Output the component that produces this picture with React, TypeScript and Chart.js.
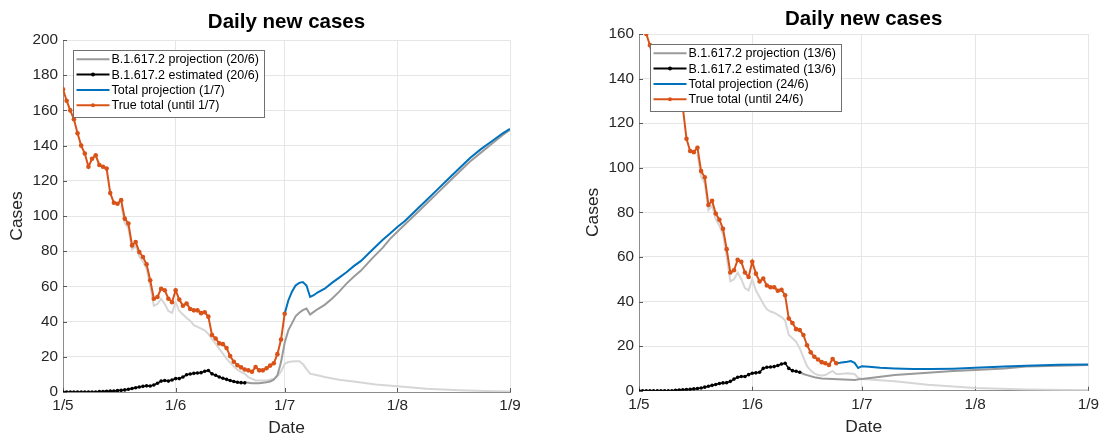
import React, { useEffect, useRef } from 'react';
import { Chart, registerables } from 'chart.js';

Chart.register(...registerables);

const FONT = '"Liberation Sans", Arial, Helvetica, sans-serif';

// x axis: days counted from 1/5
const DAY_TICKS = [0, 31, 61, 92, 123];
const DAY_LABELS = ['1/5', '1/6', '1/7', '1/8', '1/9'];

const TITLE = 'Daily new cases';

// True total daily cases, one value per day from 1/5 (day 0) to 1/7 (day 61)
const TRUE_TOTAL = [172, 165.5, 160, 155, 147, 140, 135.5, 128, 132.5, 134.5, 129, 128, 127, 113, 107.5, 107, 109, 98.5, 95.7, 83.3, 85.2, 79.5, 76.7, 72.6, 63.5, 53, 54, 58.7, 57.8, 53, 51, 57.8, 52.5, 49, 50.3, 47.2, 46.4, 46.4, 44.8, 45.3, 42.8, 32.4, 30.4, 27.6, 27.2, 25, 20.4, 17.2, 15.2, 14, 12.8, 12.3, 11.5, 14.2, 12.3, 12.3, 13.5, 15, 16.3, 21.5, 29.8, 44.5];

// B.1.617.2 estimated, daily from day 0
const EST_LEFT = [0, 0, 0, 0, 0, 0, 0, 0, 0, 0, 0.2, 0.3, 0.4, 0.5, 0.6, 0.8, 1, 1.2, 1.6, 2, 2.4, 2.8, 3.2, 3.5, 3.4, 4, 5, 6.2, 6.5, 6.2, 6.8, 7.6, 7.6, 8.5, 9.8, 10.2, 10.6, 10.8, 11, 11.8, 12.2, 10.3, 9.5, 8.5, 7.8, 7.2, 6.5, 6, 5.5, 5.3, 5.2];
const EST_RIGHT = [0, 0, 0, 0, 0, 0, 0, 0, 0, 0, 0.2, 0.3, 0.4, 0.5, 0.6, 0.8, 1, 1.2, 1.6, 2, 2.4, 2.8, 3.2, 3.5, 3.6, 4.2, 5.2, 6, 6.4, 6.4, 7.2, 7.8, 8, 8.3, 10, 10.5, 10.6, 10.8, 11.3, 12, 12.3, 10, 9, 8.7, 8.3];

// B.1.617.2 projection (20/6)
const PROJ_B_LEFT_DAYS = [50, 52, 54, 56, 57, 58, 59, 60, 61, 62, 63, 64, 65, 66, 67, 68, 69, 70, 72, 74, 76, 78, 80, 82, 85, 88, 90, 92, 94, 96, 98, 100, 103, 106, 109, 112, 115, 118, 121, 123];
const PROJ_B_LEFT = [5.5, 5, 5, 5.5, 6, 7, 9.5, 17, 28, 35, 39, 43, 45, 46.5, 47.4, 44, 45.5, 47, 49.5, 53, 57, 61.6, 65.5, 69, 75.8, 82, 87, 91, 95, 99, 103, 107, 113, 119, 125, 131, 136, 141, 146, 149];

// Total projection (1/7)
const PROJ_T_LEFT_DAYS = [61, 62, 63, 64, 65, 66, 67, 68, 69, 70, 72, 74, 76, 78, 80, 82, 85, 88, 90, 92, 94, 96, 98, 100, 103, 106, 109, 112, 115, 118, 121, 123];
const PROJ_T_LEFT = [44.5, 52, 57, 60.5, 62, 62.5, 60.5, 54, 55, 56.5, 58.7, 62, 65, 68, 71.5, 74.5, 80.5, 86.5, 90, 93.7, 97, 101, 105, 109, 115, 121, 127, 133, 138, 142.5, 147, 149.5];

// other (light grey) curve, left panel
const OTHER_LEFT_DAYS = [16, 17, 18, 19, 20, 21, 22, 23, 24, 25, 26, 27, 28, 29, 30, 31, 32, 33, 34, 35, 36, 37, 38, 39, 40, 41, 42, 43, 44, 45, 46, 47, 48, 49, 50, 51, 52, 53, 55, 56, 57, 58, 59, 60, 61, 62, 63, 64, 65, 66, 67, 68, 70, 72, 76, 81, 86, 92, 100, 109, 116, 123];
const OTHER_LEFT = [106, 96, 93, 81, 83, 77, 74, 70, 60, 49, 50, 53, 50, 46, 45, 51, 46, 44, 42, 40.5, 38, 37, 36, 35, 33, 30, 27.5, 24.5, 21.8, 19, 16.7, 14.5, 12.7, 11.5, 10.4, 8.5, 7.5, 6.6, 6.5, 6.6, 7, 7.5, 9, 11.7, 16, 17, 17.3, 17.5, 17.5, 16, 13, 10.4, 9.5, 8.5, 7, 5.7, 4.3, 3.2, 1.8, 1, 0.6, 0.3];

// B.1.617.2 projection (13/6)
const PROJ_B_RIGHT_DAYS = [44, 45, 46, 48, 50, 53, 56, 59, 61, 65, 70, 75, 80, 86, 92, 100, 106, 115, 123];
const PROJ_B_RIGHT = [8.3, 7.5, 7, 6, 5.5, 5.3, 5, 4.8, 5.3, 6, 7, 7.6, 8.2, 8.8, 9.3, 10, 10.8, 11.2, 11.5];

// Total projection (24/6)
const PROJ_T_RIGHT_DAYS = [54, 55, 56, 57, 58, 59, 60, 61, 63, 66, 70, 75, 80, 86, 92, 100, 106, 115, 123];
const PROJ_T_RIGHT = [12.3, 12.5, 12.8, 13, 13.3, 12.5, 10.2, 11, 10.7, 10.3, 10, 9.7, 9.7, 9.9, 10.3, 10.8, 11.2, 11.6, 11.8];

// other (light grey) curve, right panel
const OTHER_RIGHT_DAYS = [16, 17, 18, 19, 20, 21, 22, 23, 24, 25, 26, 27, 28, 29, 30, 31, 32, 33, 34, 35, 36, 37, 38, 39, 40, 41, 42, 43, 44, 45, 46, 47, 48, 49, 50, 51, 52, 53, 54, 55, 57, 59, 60, 61, 65, 70, 79, 92, 106, 123];
const OTHER_RIGHT = [106, 96, 93, 81, 83, 77, 74, 70, 60, 49, 50, 53, 50, 46, 45, 50, 45, 42, 39, 36.5, 35.5, 35, 34, 33, 31.5, 25, 23.5, 22, 19, 15, 11, 9, 7.8, 7, 6.8, 7, 8, 8.8, 7.5, 7.5, 7.8, 7.5, 5.8, 5.2, 4.8, 4.2, 2.7, 1.2, 0.5, 0.2];

const LEGEND_LEFT = ['B.1.617.2 projection (20/6)', 'B.1.617.2 estimated (20/6)', 'Total projection (1/7)', 'True total (until 1/7)'];
const LEGEND_RIGHT = ['B.1.617.2 projection (13/6)', 'B.1.617.2 estimated (13/6)', 'Total projection (24/6)', 'True total (until 24/6)'];

const ORANGE = '#D95319';
const BLUE = '#0072BD';
const DARK_GREY = '#9a9a9a';
const LIGHT_GREY = '#d6d6d6';
const BLACK = '#000000';

const daily = (start: number, vals: number[]) => vals.map((v, i) => ({ x: start + i, y: v }));
const paired = (days: number[], vals: number[]) => days.map((d, i) => ({ x: d, y: vals[i] }));

const insideLegend = {
  id: 'insideLegend',
  afterDatasetsDraw(chart: any, _args: any, opts: any) {
    const { ctx, chartArea } = chart;
    const items = opts.items as { text: string; color: string; width: number; marker: number }[];
    if (!items) return;
    ctx.save();
    ctx.font = `12.5px ${FONT}`;
    const textW = Math.max(...items.map((it) => ctx.measureText(it.text).width));
    const x0 = Math.round(chartArea.left + opts.dx);
    const y0 = Math.round(chartArea.top + opts.dy);
    const rowH = 15.3;
    const w = Math.round(38.5 + textW + 5);
    const h = Math.round(rowH * items.length + 5.8);
    ctx.fillStyle = '#ffffff';
    ctx.fillRect(x0, y0, w, h);
    ctx.strokeStyle = '#707070';
    ctx.lineWidth = 1;
    ctx.strokeRect(x0 + 0.5, y0 + 0.5, w, h);
    items.forEach((it, i) => {
      const cy = y0 + 9.3 + i * rowH;
      ctx.strokeStyle = it.color;
      ctx.lineWidth = it.width;
      ctx.beginPath();
      ctx.moveTo(x0 + 3.5, cy);
      ctx.lineTo(x0 + 36.5, cy);
      ctx.stroke();
      if (it.marker) {
        ctx.fillStyle = it.color;
        ctx.beginPath();
        ctx.arc(x0 + 20, cy, it.marker, 0, Math.PI * 2);
        ctx.fill();
      }
      ctx.fillStyle = '#000000';
      ctx.textBaseline = 'middle';
      ctx.textAlign = 'left';
      ctx.fillText(it.text, x0 + 38.5, cy + 0.5);
    });
    ctx.restore();
  },
};

const innerTicks = {
  id: 'innerTicks',
  beforeDatasetsDraw(chart: any) {
    const { ctx, chartArea, scales } = chart;
    ctx.save();
    ctx.strokeStyle = '#595959';
    ctx.lineWidth = 1;
    scales.y.ticks.forEach((t: any) => {
      const y = Math.round(scales.y.getPixelForValue(t.value)) + 0.5;
      ctx.beginPath();
      ctx.moveTo(chartArea.left, y);
      ctx.lineTo(chartArea.left + 4, y);
      ctx.stroke();
    });
    scales.x.ticks.forEach((t: any) => {
      const x = Math.round(scales.x.getPixelForValue(t.value)) + 0.5;
      ctx.beginPath();
      ctx.moveTo(x, chartArea.bottom);
      ctx.lineTo(x, chartArea.bottom - 4);
      ctx.stroke();
    });
    ctx.restore();
  },
};

type PanelSpec = {
  yMax: number;
  trueTotal: { x: number; y: number }[];
  est: { x: number; y: number }[];
  projB: { x: number; y: number }[];
  projT: { x: number; y: number }[];
  other: { x: number; y: number }[];
  legend: string[];
  yAxisWidth: number;
  xAxisHeight: number;
  padRight: number;
  titlePad: { top: number; bottom: number };
  casesPad: number;
  datePad: number;
  legendDx: number;
  legendDy: number;
};

function buildConfig(p: PanelSpec): any {
  const tickFont = { size: 15.3, family: FONT };
  return {
    type: 'line',
    data: {
      datasets: [
        { data: p.trueTotal, borderColor: ORANGE, backgroundColor: ORANGE, borderWidth: 2, pointRadius: 2.3, pointBorderWidth: 0, pointBackgroundColor: ORANGE },
        { data: p.projT, borderColor: BLUE, borderWidth: 2, pointRadius: 0 },
        { data: p.est, borderColor: BLACK, backgroundColor: BLACK, borderWidth: 1.5, pointRadius: 1.8, pointBorderWidth: 0, pointBackgroundColor: BLACK },
        { data: p.projB, borderColor: DARK_GREY, borderWidth: 2, pointRadius: 0 },
        { data: p.other, borderColor: LIGHT_GREY, borderWidth: 2, pointRadius: 0 },
      ],
    },
    options: {
      animation: false,
      responsive: false,
      events: [],
      layout: { padding: { left: 0, right: p.padRight, top: 0, bottom: 0 } },
      elements: { line: { tension: 0, fill: false } },
      plugins: {
        legend: { display: false },
        tooltip: { enabled: false },
        title: {
          display: true,
          text: TITLE,
          fullSize: false,
          color: '#000000',
          font: { size: 20.5, weight: 'bold', family: FONT },
          padding: p.titlePad,
        },
        insideLegend: {
          dx: p.legendDx,
          dy: p.legendDy,
          items: [
            { text: p.legend[0], color: DARK_GREY, width: 2, marker: 0 },
            { text: p.legend[1], color: BLACK, width: 2, marker: 2 },
            { text: p.legend[2], color: BLUE, width: 2, marker: 0 },
            { text: p.legend[3], color: ORANGE, width: 2, marker: 2 },
          ],
        },
      },
      scales: {
        x: {
          type: 'linear',
          min: 0,
          max: 123,
          afterBuildTicks: (s: any) => {
            s.ticks = DAY_TICKS.map((v) => ({ value: v }));
          },
          afterFit: (s: any) => {
            s.height = p.xAxisHeight;
          },
          ticks: {
            autoSkip: false,
            maxRotation: 0,
            padding: 5,
            color: '#262626',
            font: tickFont,
            callback: (v: number) => {
              const i = DAY_TICKS.indexOf(v);
              return i >= 0 ? DAY_LABELS[i] : '';
            },
          },
          grid: { color: '#e6e6e6', drawTicks: false, tickLength: 0 },
          border: { color: '#8c8c8c', width: 1 },
          title: { display: true, text: 'Date', color: '#262626', font: { size: 17.4, family: FONT }, padding: { top: 0, bottom: p.datePad } },
        },
        y: {
          min: 0,
          max: p.yMax,
          afterFit: (s: any) => {
            s.width = p.yAxisWidth;
          },
          ticks: { stepSize: 20, padding: 5, color: '#262626', font: tickFont },
          grid: { color: '#e6e6e6', drawTicks: false, tickLength: 0 },
          border: { color: '#8c8c8c', width: 1 },
          title: { display: true, text: 'Cases', color: '#262626', font: { size: 17.4, family: FONT }, padding: { top: p.casesPad, bottom: 0 } },
        },
      },
    },
    plugins: [innerTicks, insideLegend],
  };
}

function Panel({ spec, left, width, height }: { spec: PanelSpec; left: number; width: number; height: number }) {
  const ref = useRef<HTMLCanvasElement | null>(null);
  useEffect(() => {
    if (!ref.current) return;
    const chart = new Chart(ref.current, buildConfig(spec));
    return () => chart.destroy();
  }, [spec]);
  return (
    <canvas
      ref={ref}
      width={width}
      height={height}
      style={{ position: 'absolute', left, top: 0, width, height, display: 'block' }}
    />
  );
}

const LEFT_SPEC: PanelSpec = {
  yMax: 200,
  trueTotal: daily(0, TRUE_TOTAL),
  est: daily(0, EST_LEFT),
  projB: paired(PROJ_B_LEFT_DAYS, PROJ_B_LEFT),
  projT: paired(PROJ_T_LEFT_DAYS, PROJ_T_LEFT),
  other: paired(OTHER_LEFT_DAYS, OTHER_LEFT),
  legend: LEGEND_LEFT,
  yAxisWidth: 63,
  xAxisHeight: 58,
  padRight: 42,
  titlePad: { top: 10.2, bottom: 5.2 },
  casesPad: 6.5,
  datePad: 11,
  legendDx: 10.3,
  legendDy: 10,
};

const RIGHT_SPEC: PanelSpec = {
  yMax: 160,
  trueTotal: daily(0, TRUE_TOTAL.slice(0, 55)),
  est: daily(0, EST_RIGHT),
  projB: paired(PROJ_B_RIGHT_DAYS, PROJ_B_RIGHT),
  projT: paired(PROJ_T_RIGHT_DAYS, PROJ_T_RIGHT),
  other: paired(OTHER_RIGHT_DAYS, OTHER_RIGHT),
  legend: LEGEND_RIGHT,
  yAxisWidth: 87,
  xAxisHeight: 59.3,
  padRight: 13,
  titlePad: { top: 7, bottom: 2.4 },
  casesPad: 31,
  datePad: 12,
  legendDx: 11,
  legendDy: 10,
};

export default function App() {
  return (
    <div
      style={{
        position: 'fixed',
        left: 0,
        top: 0,
        width: 1104,
        height: 434,
        overflow: 'hidden',
        background: '#ffffff',
      }}
    >
      <Panel spec={LEFT_SPEC} left={0} width={552} height={450} />
      <Panel spec={RIGHT_SPEC} left={552} width={552} height={450} />
    </div>
  );
}
